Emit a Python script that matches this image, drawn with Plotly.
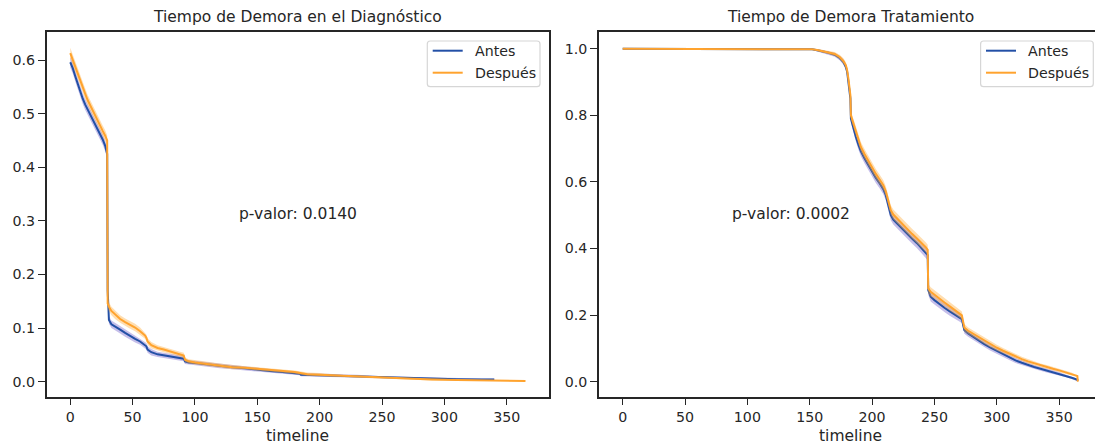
import plotly.graph_objects as go

# ---------------- data ----------------
# Left panel: Tiempo de Demora en el Diagnóstico
diag_t_antes = [0, 2, 4, 6, 8, 10, 12, 14, 16, 18, 20, 22, 24, 26, 28, 29, 29.6, 30, 30.5, 31, 33, 36, 40,
                44, 48, 52, 56, 60, 61, 62, 65, 70, 75, 80, 85, 88, 91, 92, 95, 100, 110, 120, 130, 140, 150,
                160, 170, 180, 184, 185, 200, 215, 230, 250, 270, 290, 310, 330, 340]
diag_v_antes = [0.596, 0.585, 0.570, 0.555, 0.540, 0.528, 0.517, 0.508, 0.498, 0.489, 0.480, 0.471,
                0.462, 0.452, 0.440, 0.432, 0.425, 0.170, 0.150, 0.115, 0.107, 0.102, 0.097, 0.091, 0.085,
                0.080, 0.075, 0.069, 0.066, 0.060, 0.055, 0.051, 0.049, 0.047, 0.046, 0.044, 0.043, 0.038, 0.036,
                0.035, 0.032, 0.029, 0.027, 0.025, 0.022, 0.020, 0.018, 0.016, 0.015, 0.013, 0.012, 0.011,
                0.010, 0.008, 0.007, 0.005, 0.0045, 0.004, 0.004]
diag_ci_antes = [0.010, 0.010, 0.010, 0.010, 0.010, 0.010, 0.010, 0.010, 0.010, 0.010, 0.010, 0.010,
                 0.010, 0.010, 0.010, 0.010, 0.010, 0.008, 0.008, 0.007, 0.007, 0.007, 0.007, 0.007, 0.007,
                 0.007, 0.006, 0.006, 0.006, 0.006, 0.006, 0.005, 0.005, 0.005, 0.005, 0.005, 0.005, 0.005, 0.004,
                 0.004, 0.004, 0.004, 0.004, 0.004, 0.004, 0.003, 0.003, 0.003, 0.003, 0.003, 0.003, 0.003,
                 0.003, 0.002, 0.002, 0.002, 0.002, 0.002, 0.002]

diag_t_despues = [0, 2, 4, 6, 8, 10, 12, 14, 16, 18, 20, 22, 24, 26, 28, 29, 29.6, 30, 31, 33, 36, 40, 44,
                  48, 52, 56, 60, 61, 62, 65, 70, 75, 80, 85, 88, 91, 92, 95, 100, 110, 120, 130, 140, 150,
                  160, 170, 180, 190, 200, 215, 230, 250, 270, 290, 310, 330, 350, 365]
diag_v_despues = [0.613, 0.600, 0.586, 0.572, 0.560, 0.548, 0.537, 0.525, 0.515, 0.506, 0.496,
                  0.487, 0.478, 0.468, 0.459, 0.454, 0.450, 0.146, 0.140, 0.132, 0.125, 0.117, 0.111,
                  0.106, 0.101, 0.094, 0.086, 0.082, 0.075, 0.068, 0.063, 0.060, 0.057, 0.054, 0.051, 0.049,
                  0.041, 0.038, 0.036, 0.033, 0.030, 0.027, 0.026, 0.024, 0.022, 0.020, 0.018,
                  0.014, 0.013, 0.011, 0.009, 0.007, 0.005, 0.004, 0.003, 0.002, 0.002, 0.0015]
diag_ci_despues = [0.010, 0.010, 0.010, 0.010, 0.010, 0.010, 0.010, 0.010, 0.010, 0.010, 0.010,
                   0.010, 0.010, 0.010, 0.010, 0.010, 0.010, 0.008, 0.008, 0.008, 0.008, 0.007, 0.007,
                   0.007, 0.007, 0.007, 0.006, 0.006, 0.006, 0.006, 0.005, 0.005, 0.005, 0.005, 0.005, 0.005,
                   0.004, 0.004, 0.004, 0.004, 0.004, 0.004, 0.003, 0.003, 0.003, 0.003, 0.003,
                   0.003, 0.003, 0.002, 0.002, 0.002, 0.002, 0.002, 0.001, 0.001, 0.001, 0.001]

# Right panel: Tiempo de Demora Tratamiento
trat_t = [0, 150, 152, 156, 160, 165, 170, 174, 177, 179, 180, 181, 182, 182.6, 183, 185, 187, 189, 191,
          194, 197, 200, 203, 206, 209, 211, 213, 215, 217, 220, 224, 228, 232, 236, 240, 243,
          244.6, 245, 247, 250, 254, 258, 262, 266, 270, 272, 273, 274, 277, 281, 285, 290, 295,
          300, 305, 310, 315, 320, 325, 330, 335, 340, 345, 350, 355, 360, 363, 364.6, 365]
trat_v_antes = [1.0, 1.0, 0.998, 0.995, 0.992, 0.988, 0.982, 0.972, 0.960, 0.945, 0.930, 0.905,
                0.875, 0.850, 0.790, 0.760, 0.735, 0.712, 0.692, 0.670, 0.650, 0.630, 0.612, 0.596,
                0.578, 0.560, 0.530, 0.500, 0.487, 0.475, 0.459, 0.444, 0.430, 0.416, 0.400,
                0.388, 0.380, 0.275, 0.255, 0.245, 0.233, 0.222, 0.212, 0.203, 0.193, 0.188,
                0.170, 0.155, 0.145, 0.135, 0.124, 0.113, 0.102, 0.092, 0.082, 0.073, 0.064,
                0.057, 0.050, 0.044, 0.039, 0.034, 0.029, 0.024, 0.018, 0.012, 0.008, 0.006, 0.003]
trat_v_despues = [1.0, 1.0, 0.998, 0.996, 0.993, 0.989, 0.984, 0.975, 0.963, 0.950, 0.935, 0.910,
                  0.885, 0.860, 0.800, 0.775, 0.748, 0.725, 0.705, 0.683, 0.662, 0.642, 0.624, 0.607,
                  0.590, 0.572, 0.545, 0.515, 0.502, 0.490, 0.474, 0.458, 0.444, 0.430, 0.416,
                  0.404, 0.396, 0.280, 0.270, 0.262, 0.250, 0.238, 0.227, 0.216, 0.205, 0.199,
                  0.180, 0.162, 0.153, 0.144, 0.134, 0.123, 0.112, 0.102, 0.093, 0.084, 0.076,
                  0.068, 0.061, 0.055, 0.049, 0.044, 0.039, 0.034, 0.029, 0.024, 0.019, 0.017, 0.000]
trat_ci = [0.0, 0.0, 0.002, 0.003, 0.004, 0.005, 0.006, 0.007, 0.008, 0.009, 0.010, 0.011, 0.012,
           0.012, 0.013, 0.014, 0.014, 0.015, 0.015, 0.015, 0.015, 0.015, 0.015, 0.015, 0.015, 0.015,
           0.015, 0.015, 0.015, 0.015, 0.015, 0.015, 0.015, 0.015, 0.015, 0.015, 0.015, 0.014,
           0.014, 0.013, 0.013, 0.013, 0.013, 0.012, 0.012, 0.012, 0.011, 0.011, 0.010, 0.010,
           0.010, 0.009, 0.009, 0.009, 0.008, 0.008, 0.008, 0.007, 0.007, 0.006, 0.006, 0.006,
           0.005, 0.005, 0.004, 0.004, 0.003, 0.003, 0.002]

p_diag = "p-valor: 0.0140"
p_trat = "p-valor: 0.0002"
titles = ["Tiempo de Demora en el Diagnóstico", "Tiempo de Demora Tratamiento"]
series_names = ["Antes", "Después"]

# ---------------- styling ----------------
W, H = 1095, 445
FONT = "DejaVu Sans"
TXT = "#262626"
BLUE = "#2350a6"
ORANGE = "#ffa32e"
BLUE_BAND = "rgba(104, 88, 200, 0.38)"
ORANGE_BAND = "rgba(255, 168, 50, 0.38)"


def px(x):
    return x / W


def py(y):
    return 1 - y / H


fig = go.Figure()


def add_curve(t, v, ci, color, band, xa, ya, name):
    upper = [a + b for a, b in zip(v, ci)]
    lower = [a - b for a, b in zip(v, ci)]
    fig.add_trace(go.Scatter(x=t, y=upper, mode="lines", line=dict(width=0),
                             xaxis=xa, yaxis=ya, showlegend=False, hoverinfo="skip"))
    fig.add_trace(go.Scatter(x=t, y=lower, mode="lines", line=dict(width=0),
                             fill="tonexty", fillcolor=band, xaxis=xa, yaxis=ya,
                             showlegend=False, hoverinfo="skip"))
    fig.add_trace(go.Scatter(x=t, y=v, mode="lines", name=name,
                             line=dict(color=color, width=2),
                             xaxis=xa, yaxis=ya, showlegend=False))


add_curve(diag_t_antes, diag_v_antes, diag_ci_antes, BLUE, BLUE_BAND, "x", "y", series_names[0])
add_curve(diag_t_despues, diag_v_despues, diag_ci_despues, ORANGE, ORANGE_BAND, "x", "y", series_names[1])
add_curve(trat_t, trat_v_antes, trat_ci, BLUE, BLUE_BAND, "x2", "y2", series_names[0])
add_curve(trat_t, trat_v_despues, trat_ci, ORANGE, ORANGE_BAND, "x2", "y2", series_names[1])

ydom = [py(396.7), py(31.7)]
axis_common = dict(showgrid=False, zeroline=False, showline=True, linecolor=TXT, linewidth=1.6,
                   ticks="outside", tickcolor=TXT, tickwidth=1.4,
                   tickfont=dict(family=FONT, size=14.2, color=TXT))

fig.update_layout(
    width=W, height=H,
    margin=dict(l=0, r=0, t=0, b=0),
    paper_bgcolor="white", plot_bgcolor="white",
    font=dict(family=FONT, color=TXT),
    xaxis=dict(domain=[px(46.7), px(549)], range=[-18.9, 383.9], anchor="y", mirror=True,
               tickvals=[0, 50, 100, 150, 200, 250, 300, 350], ticklen=6,
               **axis_common),
    yaxis=dict(domain=ydom, range=[-0.028, 0.653], anchor="x", mirror=True,
               tickvals=[0, 0.1, 0.2, 0.3, 0.4, 0.5, 0.6], tickformat=".1f", ticklen=7,
               **axis_common),
    xaxis2=dict(domain=[px(599), 1.0], range=[-19.0, 378.75], anchor="y2", mirror=True,
                tickvals=[0, 50, 100, 150, 200, 250, 300, 350], ticklen=6,
                **axis_common),
    yaxis2=dict(domain=ydom, range=[-0.045, 1.051], anchor="x2",
                tickvals=[0, 0.2, 0.4, 0.6, 0.8, 1.0], tickformat=".1f", ticklen=7,
                **axis_common),
)

annotations = []
# titles
annotations.append(dict(text=titles[0], x=px(298), y=py(17.3), xref="paper", yref="paper",
                        showarrow=False, xanchor="center", yanchor="middle",
                        font=dict(family=FONT, size=15.5, color=TXT)))
annotations.append(dict(text=titles[1], x=px(850), y=py(17.3), xref="paper", yref="paper",
                        showarrow=False, xanchor="center", yanchor="middle",
                        font=dict(family=FONT, size=15.5, color=TXT)))
# axis labels
for cx in (298, 850):
    annotations.append(dict(text="timeline", x=px(cx), y=py(436), xref="paper", yref="paper",
                            showarrow=False, xanchor="center", yanchor="middle",
                            font=dict(family=FONT, size=15.5, color=TXT)))
# p-values
annotations.append(dict(text=p_diag, x=182.5, y=0.312, xref="x", yref="y", showarrow=False,
                        xanchor="center", yanchor="middle",
                        font=dict(family=FONT, size=15.5, color=TXT)))
annotations.append(dict(text=p_trat, x=135, y=0.503, xref="x2", yref="y2", showarrow=False,
                        xanchor="center", yanchor="middle",
                        font=dict(family=FONT, size=15.5, color=TXT)))

shapes = []


def rounded_rect(x0, y0, x1, y1, r=3):
    X0, X1 = px(x0), px(x1)
    Y0, Y1 = py(y0), py(y1)
    rx, ry = r / W, r / H
    return (f"M {X0+rx},{Y0} L {X1-rx},{Y0} Q {X1},{Y0} {X1},{Y0-ry} "
            f"L {X1},{Y1+ry} Q {X1},{Y1} {X1-rx},{Y1} L {X0+rx},{Y1} Q {X0},{Y1} {X0},{Y1+ry} "
            f"L {X0},{Y0-ry} Q {X0},{Y0} {X0+rx},{Y0} Z")


def add_legend(bx0, bx1, by0, by1, lx0, tx):
    shapes.append(dict(type="path", path=rounded_rect(bx0, by0, bx1, by1), xref="paper", yref="paper",
                       fillcolor="rgba(255,255,255,0.8)", line=dict(color="#d6d6d6", width=1.2)))
    for yy, col, name in [(50.7, BLUE, series_names[0]), (72.7, ORANGE, series_names[1])]:
        shapes.append(dict(type="line", x0=px(lx0), x1=px(lx0 + 30), y0=py(yy), y1=py(yy),
                           xref="paper", yref="paper", line=dict(color=col, width=2)))
        annotations.append(dict(text=name, x=px(tx), y=py(yy), xref="paper", yref="paper",
                                showarrow=False, xanchor="left", yanchor="middle",
                                font=dict(family=FONT, size=14.2, color=TXT)))


add_legend(427.3, 540, 41, 86.7, 432.7, 472.5)
add_legend(980.6, 1093.3, 41, 86.7, 986, 1025.8)

fig.update_layout(annotations=annotations, shapes=shapes)

fig.write_html("out.html", config={"displayModeBar": False},
               post_script="document.body.style.margin='0';document.body.style.overflow='hidden';")
